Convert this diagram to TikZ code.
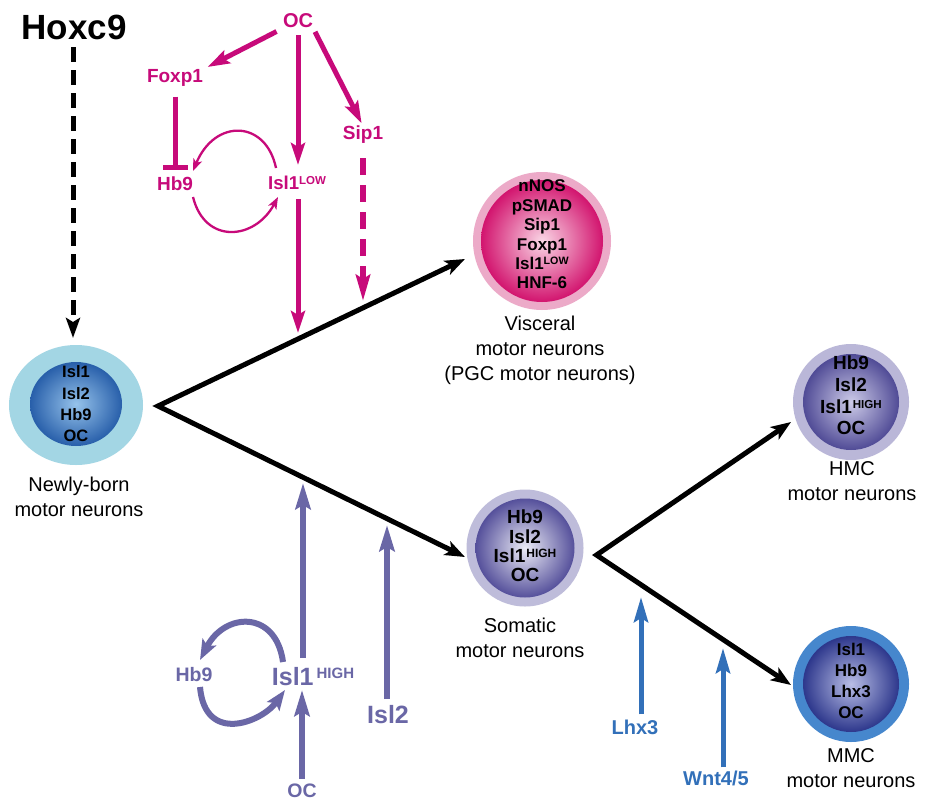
\documentclass[tikz,border=0pt]{standalone}
\usepackage{fontspec}
\setmainfont{Liberation Sans}
\usetikzlibrary{arrows.meta}
\definecolor{mag}{RGB}{199,10,122}
\definecolor{pur}{RGB}{106,103,166}
\definecolor{blu}{RGB}{50,112,185}
\definecolor{nbout}{RGB}{163,214,228}
\definecolor{nbedge}{RGB}{40,95,170}
\definecolor{nbin}{RGB}{150,195,235}
\definecolor{vout}{RGB}{236,170,200}
\definecolor{vedge}{RGB}{210,20,110}
\definecolor{vin}{RGB}{250,215,230}
\definecolor{sout}{RGB}{190,188,218}
\definecolor{sedge}{RGB}{85,80,155}
\definecolor{sin}{RGB}{235,235,245}
\definecolor{hout}{RGB}{186,183,216}
\definecolor{hedge}{RGB}{80,75,150}
\definecolor{hin}{RGB}{205,203,232}
\definecolor{mout}{RGB}{70,135,205}
\definecolor{medge}{RGB}{45,55,140}
\definecolor{min}{RGB}{185,190,230}
\newcommand{\myfs}[2]{\fontsize{#1}{#2}\selectfont}
\newcommand{\mysup}[3]{\raisebox{#1pt}{\myfs{#2}{#2}#3}}
\begin{document}
\begin{tikzpicture}[x=1pt,y=-1pt,
  magtxt/.style={text=mag, inner sep=0pt, font=\myfs{19}{22}\bfseries},
  purtxt/.style={text=pur, inner sep=0pt, font=\myfs{19.5}{23}\bfseries},
  bluetxt/.style={text=blu, inner sep=0pt, font=\myfs{20}{24}\bfseries},
  celltxt/.style={align=center, inner sep=0pt},
  labtxt/.style={align=center, inner sep=0pt, font=\myfs{20}{25}},
  blkv/.style={draw=black, line width=5pt, line join=miter,
    {Stealth[length=20pt,width=15pt,inset=5pt]}-{Stealth[length=20pt,width=15pt,inset=5pt]}},
  blkdash/.style={draw=black, line width=5pt, dash pattern=on 15pt off 8pt,
    -{Stealth[length=20pt,width=14pt,inset=4pt]}},
  magthick/.style={draw=mag, line width=5pt, -{Stealth[length=22pt,width=14pt,inset=4pt]}},
  magdash/.style={draw=mag, line width=6pt, dash pattern=on 17pt off 10pt,
    -{Stealth[length=26pt,width=14pt,inset=4pt]}},
  magthin/.style={draw=mag, line width=2.3pt, -{Stealth[length=12pt,width=9pt,inset=3pt]}},
  purarr/.style={draw=pur, line width=6pt, -{Stealth[length=26pt,width=15pt,inset=4pt]}},
  purcurve/.style={draw=pur, line width=6pt, -{Stealth[length=20pt,width=15pt,inset=4pt]}},
  bluearr/.style={draw=blu, line width=5pt, -{Stealth[length=25pt,width=14pt,inset=4pt]}}
]
\useasboundingbox[fill=white] (0,0) rectangle (931,803);

% ---- cells ----
\fill[nbout] (76,405) ellipse [x radius=67pt, y radius=60pt];
\shade[inner color=nbin, outer color=nbedge] (76,404) ellipse [x radius=46pt, y radius=42pt];
\node[celltxt, font=\myfs{16.5}{21.3}\bfseries] (nbtxt) at (76,404) {Isl1\\Isl2\\Hb9\\OC};
\node[labtxt] (nblab) at (79,497) {Newly-born\\motor neurons};

\fill[vout] (542,241) circle [radius=69pt];
\shade[inner color=vin, outer color=vedge] (542,241) circle [radius=61pt];
\node[celltxt, font=\myfs{17}{19.4}\bfseries] (vtxt) at (542,234.5)
  {nNOS\\pSMAD\\Sip1\\Foxp1\\Isl1\mysup{4.5}{10.7}{LOW}\\HNF-6};
\node[labtxt] (vlab) at (540,350) {Visceral\\motor neurons\\(PGC motor neurons)};

\fill[sout] (525,548) circle [radius=58.5pt];
\shade[inner color=sin, outer color=sedge] (525,548) circle [radius=49.5pt];
\node[celltxt, font=\myfs{19}{19.4}\bfseries] (stxt) at (525,546)
  {Hb9\\Isl2\\Isl1\hspace{1pt}\mysup{5}{12}{HIGH}\\OC};
\node[labtxt] (slab) at (520,638) {Somatic\\motor neurons};

\fill[hout] (851,402) circle [radius=58pt];
\shade[inner color=hin, outer color=hedge] (851,402) circle [radius=48pt];
\node[celltxt, font=\myfs{19}{21.7}\bfseries] (htxt) at (851,395.5)
  {Hb9\\Isl2\\Isl1\hspace{1pt}\mysup{5}{11.6}{HIGH}\\OC};
\node[labtxt] (hlab) at (852,481) {HMC\\motor neurons};

\fill[mout] (851,684) circle [radius=58pt];
\shade[inner color=min, outer color=medge] (851,684) circle [radius=48pt];
\node[celltxt, font=\myfs{17}{21}\bfseries] (mtxt) at (851,680.5) {Isl1\\Hb9\\Lhx3\\OC};
\node[labtxt] (mlab) at (851,768) {MMC\\motor neurons};

% ---- Hoxc9 ----
\node[inner sep=0pt, font=\myfs{35}{40}\bfseries] (hox) at (74,27) {Hoxc9};
\coordinate (hoxt) at (73,338);
\draw[blkdash, shorten <=7.5pt] (hox.south -| hoxt) -- (hoxt);

% ---- magenta network ----
\node[magtxt, font=\myfs{20}{24}\bfseries] (oc1) at (298,21) {OC};
\node[magtxt] (foxp1) at (175,78) {Foxp1};
\node[magtxt] (sip1) at (363,135) {Sip1};
\node[magtxt] (hb9m) at (175,184) {Hb9};
\node[magtxt, font=\myfs{18.6}{22}\bfseries] (isl1low) at (297,183) {Isl1\mysup{5.1}{11.5}{LOW}};

\draw[magthick, shorten <=7pt, shorten >=5pt] (oc1.south west) -- (foxp1.north east);
\draw[magthick, shorten <=7pt, shorten >=11pt] (oc1.south) -- (oc1.south |- isl1low.north);
\draw[magthick, shorten <=4pt, shorten >=3pt] (oc1.south east) -- (sip1.north);
\draw[mag, line width=5pt, -{Bar[width=25pt]}, shorten <=10pt, shorten >=7pt] (foxp1.south) -- (hb9m.north);

\coordinate (ua1) at (276,168);
\coordinate (ua2) at (193,171);
\draw[magthin] (ua1) .. controls (266,120) and (215,118) .. (ua2);
\coordinate (la1) at (193,197);
\coordinate (la2) at (278,197);
\draw[magthin] (la1) .. controls (205,245) and (255,240) .. (la2);

\coordinate (lowt) at (298,333);
\draw[magthick, shorten <=9pt] (isl1low.south -| lowt) -- (lowt);
\coordinate (sipt) at (363,301);
\draw[magdash, shorten <=14pt] (sip1.south) -- (sipt);

% ---- purple network ----
\node[purtxt] (hb9p) at (194,675) {Hb9};
\node[purtxt, font=\myfs{25}{30}\bfseries] (isl1h) at (313,676.5) {Isl1\hspace{3pt}\mysup{7.2}{15}{HIGH}};
\node[purtxt, font=\myfs{25}{30}\bfseries] (isl2p) at (388,714.5) {Isl2};
\node[purtxt, font=\myfs{19.5}{24}\bfseries] (ocp) at (302,791) {OC};

\coordinate (ht1) at (303,483);
\draw[purarr, shorten <=9pt] (isl1h.north -| ht1) -- (ht1);
\draw[purarr, shorten <=5pt, shorten >=4pt] (ocp.north) -- (ocp.north |- isl1h.south);
\coordinate (ht2) at (387,525);
\draw[purarr, shorten <=6pt] (isl2p.north -| ht2) -- (ht2);

\coordinate (pu1) at (283,662);
\coordinate (pu2) at (200,660);
\draw[purcurve] (pu1) .. controls (276,610) and (225,612) .. (pu2);
\coordinate (pl1) at (200,687);
\coordinate (pl2) at (285,690);
\draw[purcurve] (pl1) .. controls (205,745) and (262,722) .. (pl2);

% ---- blue ----
\node[bluetxt] (lhx3) at (635,727) {Lhx3};
\node[bluetxt] (wnt) at (716,778) {Wnt4/5};
\coordinate (bt1) at (641,597);
\draw[bluearr, shorten <=5pt] (lhx3.north -| bt1) -- (bt1);
\coordinate (bt2) at (723,648);
\draw[bluearr, shorten <=3pt] (wnt.north -| bt2) -- (bt2);

% ---- black lineage arrows ----
\coordinate (v1) at (158,406);
\coordinate (visct) at (465,259);
\coordinate (somt) at (465,557);
\draw[blkv] (visct) -- (v1) -- (somt);
\coordinate (v2) at (596.5,555);
\coordinate (hmct) at (791,422);
\coordinate (mmct) at (791,685);
\draw[blkv] (hmct) -- (v2) -- (mmct);
\end{tikzpicture}
\end{document}
